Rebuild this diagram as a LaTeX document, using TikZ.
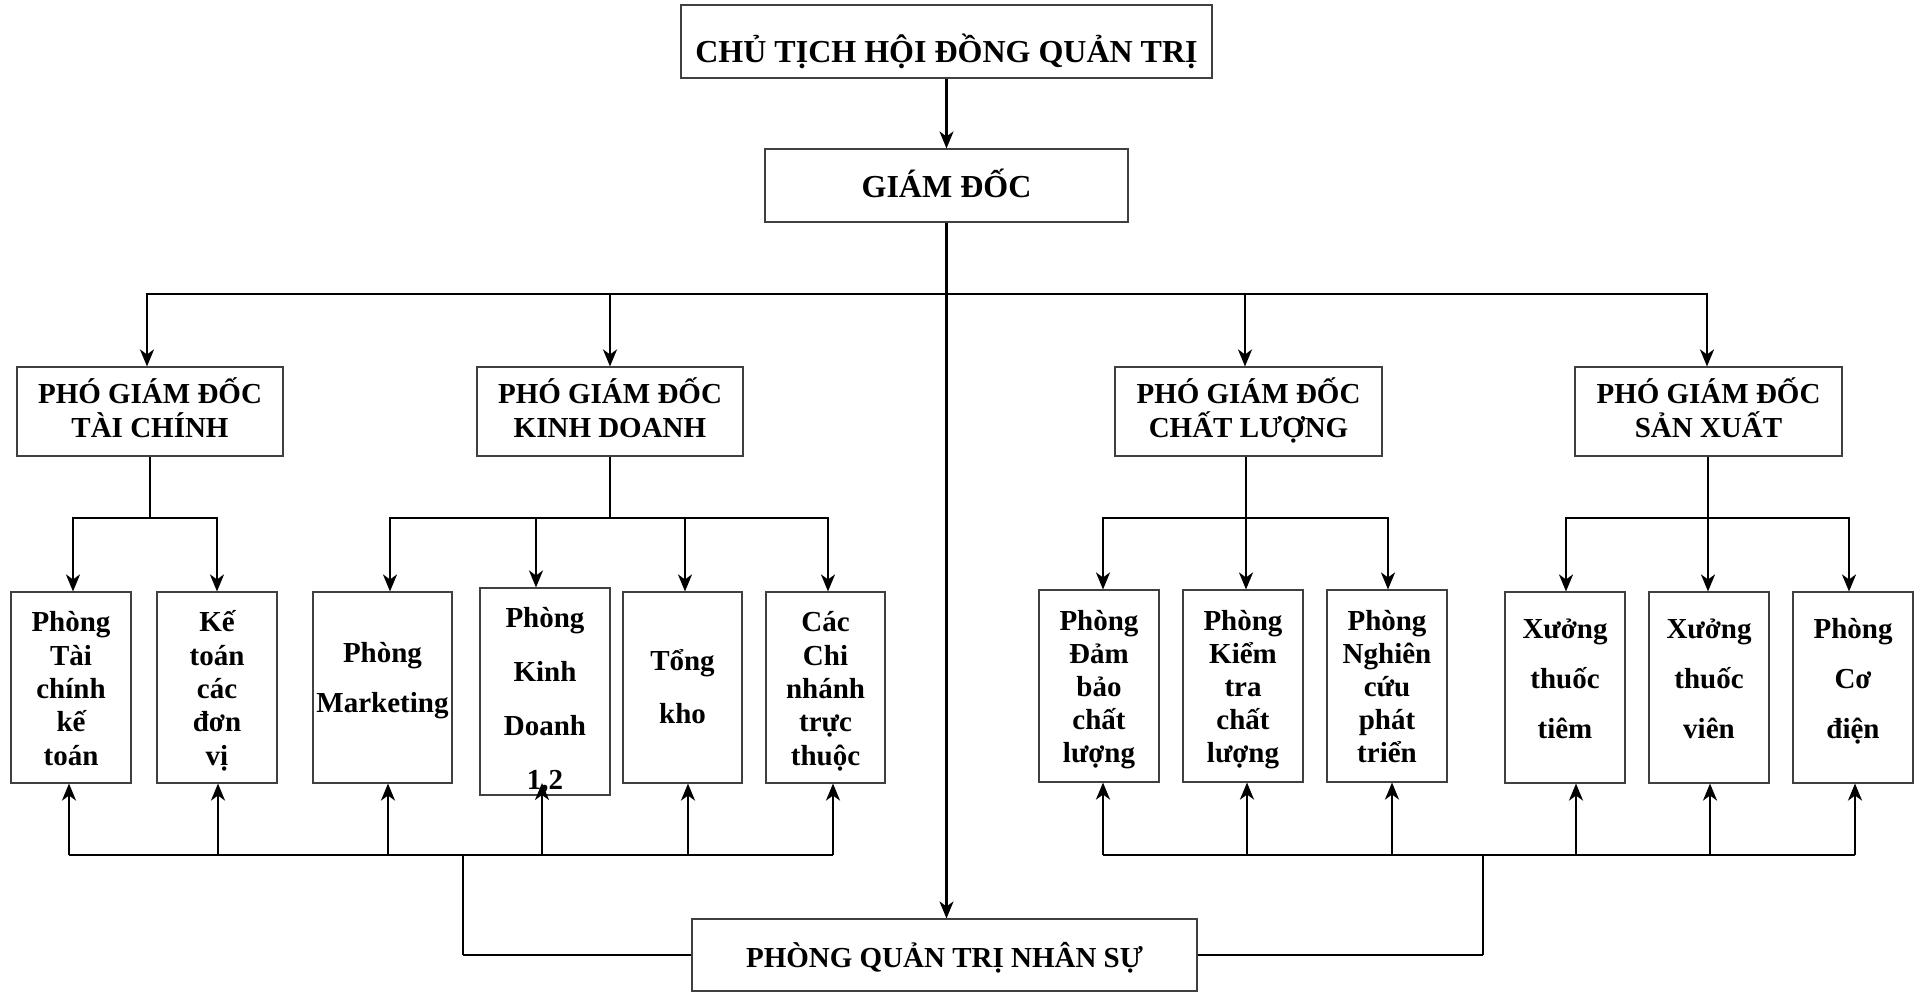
\documentclass[tikz,border=0pt]{standalone}
\usepackage{fontspec}
\setmainfont{Liberation Serif}
\usetikzlibrary{arrows.meta}
\begin{document}
\begin{tikzpicture}[x=1pt,y=-1pt,
  box/.style={draw=black!75, line width=1.1pt, inner sep=0pt, fill=white},
  txt/.style={inner sep=0pt, anchor=base, align=center},
  ln/.style={line width=2.3pt, draw=black},
  thin/.style={line width=1.6pt, draw=black},
  bus/.style={line width=2.7pt, draw=black},
  tip/.tip={Stealth[length=17pt,width=14pt,inset=5pt]},
  arr/.style={ln, -tip},
  arrb/.style={ln, tip-tip}]
\useasboundingbox (0,0) rectangle (1919,992);
% ---------- boxes ----------
\node[box, minimum width=531pt, minimum height=73pt] (top) at (946.5,41.5) {};
\node[box, minimum width=363pt, minimum height=73pt] (gd) at (946.5,185.5) {};
\node[box, minimum width=266pt, minimum height=89pt] (pgd1) at (150,411.5) {};
\node[box, minimum width=266pt, minimum height=89pt] (pgd2) at (610,411.5) {};
\node[box, minimum width=267pt, minimum height=89pt] (pgd3) at (1248.5,411.5) {};
\node[box, minimum width=267pt, minimum height=89pt] (pgd4) at (1708.5,411.5) {};
\node[box, minimum width=120pt, minimum height=191pt] (b1) at (71,687.5) {};
\node[box, minimum width=120pt, minimum height=191pt] (b2) at (217,687.5) {};
\node[box, minimum width=139pt, minimum height=191pt] (b3) at (382.5,687.5) {};
\node[box, minimum width=130pt, minimum height=207pt] (b4) at (545,691.5) {};
\node[box, minimum width=119pt, minimum height=191pt] (b5) at (682.5,687.5) {};
\node[box, minimum width=119pt, minimum height=191pt] (b6) at (825.5,687.5) {};
\node[box, minimum width=120pt, minimum height=192pt] (b7) at (1099,686) {};
\node[box, minimum width=120pt, minimum height=192pt] (b8) at (1243,686) {};
\node[box, minimum width=120pt, minimum height=192pt] (b9) at (1387,686) {};
\node[box, minimum width=120pt, minimum height=191pt] (b10) at (1565,687.5) {};
\node[box, minimum width=120pt, minimum height=191pt] (b11) at (1709,687.5) {};
\node[box, minimum width=120pt, minimum height=191pt] (b12) at (1853,687.5) {};
\node[box, minimum width=505pt, minimum height=72pt] (qtns) at (944.5,955) {};
% ---------- texts (anchor = baseline of last line) ----------
\node[txt, font=\fontsize{32}{38}\selectfont\bfseries] (ttop) at (946.5,63) {CHỦ TỊCH HỘI ĐỒNG QUẢN TRỊ};
\node[txt, font=\fontsize{32}{38}\selectfont\bfseries] (tgd) at (946.5,198) {GIÁM ĐỐC};
\node[txt, font=\fontsize{29}{34}\selectfont\bfseries] (tp1) at (150,437) {PHÓ GIÁM ĐỐC\\TÀI CHÍNH};
\node[txt, font=\fontsize{29}{34}\selectfont\bfseries] (tp2) at (610,437) {PHÓ GIÁM ĐỐC\\KINH DOANH};
\node[txt, font=\fontsize{29}{34}\selectfont\bfseries] (tp3) at (1248.5,437) {PHÓ GIÁM ĐỐC\\CHẤT LƯỢNG};
\node[txt, font=\fontsize{29}{34}\selectfont\bfseries] (tp4) at (1708.5,437) {PHÓ GIÁM ĐỐC\\SẢN XUẤT};
\node[txt, font=\fontsize{29}{33.3}\selectfont\bfseries] (t1) at (71,765) {Phòng\\Tài\\chính\\kế\\toán};
\node[txt, font=\fontsize{29}{33.3}\selectfont\bfseries] (t2) at (217,765) {Kế\\toán\\các\\đơn\\vị};
\node[txt, font=\fontsize{29}{50}\selectfont\bfseries] (t3) at (382.5,712) {Phòng\\Marketing};
\node[txt, font=\fontsize{29}{54}\selectfont\bfseries] (t4) at (545,789) {Phòng\\Kinh\\Doanh\\1,2};
\node[txt, font=\fontsize{29}{53}\selectfont\bfseries] (t5) at (682.5,723) {Tổng\\kho};
\node[txt, font=\fontsize{29}{33.3}\selectfont\bfseries] (t6) at (825.5,765) {Các\\Chi\\nhánh\\trực\\thuộc};
\node[txt, font=\fontsize{29}{33}\selectfont\bfseries] (t7) at (1099,762) {Phòng\\Đảm\\bảo\\chất\\lượng};
\node[txt, font=\fontsize{29}{33}\selectfont\bfseries] (t8) at (1243,762) {Phòng\\Kiểm\\tra\\chất\\lượng};
\node[txt, font=\fontsize{29}{33}\selectfont\bfseries] (t9) at (1387,762) {Phòng\\Nghiên\\cứu\\phát\\triển};
\node[txt, font=\fontsize{29}{50}\selectfont\bfseries] (t10) at (1565,738) {Xưởng\\thuốc\\tiêm};
\node[txt, font=\fontsize{29}{50}\selectfont\bfseries] (t11) at (1709,738) {Xưởng\\thuốc\\viên};
\node[txt, font=\fontsize{29}{50}\selectfont\bfseries] (t12) at (1853,738) {Phòng\\Cơ\\điện};
\node[txt, font=\fontsize{29}{34}\selectfont\bfseries] (tq) at (944.5,967) {PHÒNG QUẢN TRỊ NHÂN SỰ};
% ---------- coordinates ----------
\coordinate (m1) at (147,294);
\coordinate (m2) at (610,294);
\coordinate (m3) at (1245,294);
\coordinate (m4) at (1707,294);
\coordinate (s1) at (150,518);
\coordinate (s1a) at (73,518);
\coordinate (s1b) at (217,518);
\coordinate (k1) at (390,518);
\coordinate (k2) at (536,518);
\coordinate (k3) at (685,518);
\coordinate (k4) at (828,518);
\coordinate (c1) at (1103,518);
\coordinate (c2) at (1246,518);
\coordinate (c3) at (1388,518);
\coordinate (x1) at (1566,518);
\coordinate (x2) at (1708,518);
\coordinate (x3) at (1849,518);
\coordinate (u1) at (69,855);
\coordinate (u2) at (218,855);
\coordinate (u3) at (388,855);
\coordinate (u4) at (542,855);
\coordinate (u5) at (688,855);
\coordinate (u6) at (833,855);
\coordinate (tip4) at (542,783);
\coordinate (v1) at (1103,855);
\coordinate (v2) at (1247,855);
\coordinate (v3) at (1392,855);
\coordinate (v4) at (1576,855);
\coordinate (v5) at (1710,855);
\coordinate (v6) at (1855,855);
\coordinate (jl) at (463,855);
\coordinate (jr) at (1483,855);
% ---------- top connectors ----------
\draw[arr] (top.south) -- (gd.north);
\draw[arrb] (m1 |- pgd1.north) -- (m1) -- (m4) -- (m4 |- pgd4.north);
\draw[arr] (m2) -- (m2 |- pgd2.north);
\draw[arr] (m3) -- (m3 |- pgd3.north);
\draw[arr] (gd.south) -- (gd.south |- qtns.north);
% ---------- sub buses ----------
\draw[ln] (pgd1.south -| s1) -- (s1);
\draw[arrb] (s1a |- b1.north) -- (s1a) -- (s1b) -- (s1b |- b2.north);
\draw[ln] (pgd2.south) -- (pgd2.south |- k1);
\draw[arrb] (k1 |- b3.north) -- (k1) -- (k4) -- (k4 |- b6.north);
\draw[arr] (k2) -- (k2 |- b4.north);
\draw[arr] (k3) -- (k3 |- b5.north);
\draw[ln] (c2 |- pgd3.south) -- (c2);
\draw[arrb] (c1 |- b7.north) -- (c1) -- (c3) -- (c3 |- b9.north);
\draw[arr] (c2) -- (c2 |- b8.north);
\draw[ln] (x2 |- pgd4.south) -- (x2);
\draw[arrb] (x1 |- b10.north) -- (x1) -- (x3) -- (x3 |- b12.north);
\draw[arr] (x2) -- (x2 |- b11.north);
% ---------- bottom buses ----------
\draw[bus] (u1) -- (u6);
\draw[bus] (v1) -- (v6);
\draw[arr] (u1) -- (u1 |- b1.south);
\draw[arr] (u2) -- (u2 |- b2.south);
\draw[arr] (u3) -- (u3 |- b3.south);
\draw[arr] (u4) -- (tip4);
\draw[arr] (u5) -- (u5 |- b5.south);
\draw[arr] (u6) -- (u6 |- b6.south);
\draw[arr] (v1) -- (v1 |- b7.south);
\draw[arr] (v2) -- (v2 |- b8.south);
\draw[arr] (v3) -- (v3 |- b9.south);
\draw[arr] (v4) -- (v4 |- b10.south);
\draw[arr] (v5) -- (v5 |- b11.south);
\draw[arr] (v6) -- (v6 |- b12.south);
\draw[thin] (jl) -- (jl |- qtns.west);
\draw[ln] (jl |- qtns.west) -- (qtns.west);
\draw[ln] (qtns.east) -- (jr |- qtns.east);
\draw[thin] (jr |- qtns.east) -- (jr);
\end{tikzpicture}
\end{document}
